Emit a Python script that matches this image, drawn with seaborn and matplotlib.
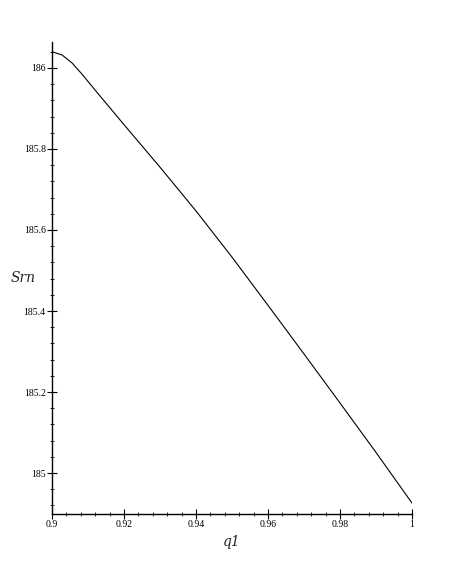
import matplotlib
matplotlib.use("Agg")
import matplotlib.pyplot as plt
from matplotlib.ticker import MultipleLocator, FixedLocator
import seaborn as sns
import pandas as pd

q1 = [0.9000, 0.9028, 0.9056, 0.9083, 0.912, 0.920, 0.930, 0.940, 0.950, 0.960, 0.970, 0.980, 0.990, 1.000]
srn = [186.040, 186.032, 186.012, 185.985, 185.945, 185.860, 185.755, 185.647, 185.533, 185.414, 185.294, 185.173, 185.051, 184.926]
x_ticks = [0.90, 0.92, 0.94, 0.96, 0.98, 1.00]
x_labels = ["0.9", "0.92", "0.94", "0.96", "0.98", "1"]
y_ticks = [185.0, 185.2, 185.4, 185.6, 185.8, 186.0]
y_labels = ["185", "185.2", "185.4", "185.6", "185.8", "186"]

sns.set_style("ticks")
plt.rcParams["font.family"] = ["Liberation Serif", "DejaVu Serif"]

df = pd.DataFrame({"q1": q1, "Srn": srn})

fig = plt.figure(figsize=(4.56, 5.75), dpi=100)
ax = fig.add_axes([52/456, 1-514/575, 360/456, 472/575])
sns.lineplot(data=df, x="q1", y="Srn", ax=ax, color="black", linewidth=0.8)

ax.set_xlim(0.9, 1.0)
ax.set_ylim(184.899, 186.064)
ax.spines["top"].set_visible(False)
ax.spines["right"].set_visible(False)
for s in ("left", "bottom"):
    ax.spines[s].set_linewidth(1.0)
    ax.spines[s].set_color("black")

ax.xaxis.set_major_locator(FixedLocator(x_ticks))
ax.set_xticklabels(x_labels)
ax.yaxis.set_major_locator(FixedLocator(y_ticks))
ax.set_yticklabels(y_labels)
ax.xaxis.set_minor_locator(MultipleLocator(0.004))
ax.yaxis.set_minor_locator(MultipleLocator(0.04))
ax.tick_params(which="major", direction="inout", length=7, width=0.8, labelsize=7, pad=1, colors="black")
ax.tick_params(which="minor", direction="inout", length=3.5, width=0.6, colors="black")

ax.set_xlabel("")
ax.set_ylabel("")
fig.text(232/456, 1-542/575, "q1", fontsize=10, style="italic", ha="center", va="center", family="DejaVu Serif")
fig.text(23/456, 1-278/575, "Srn", fontsize=10, style="italic", ha="center", va="center", family="DejaVu Serif")

fig.savefig("out.png", dpi=100, facecolor="white")
